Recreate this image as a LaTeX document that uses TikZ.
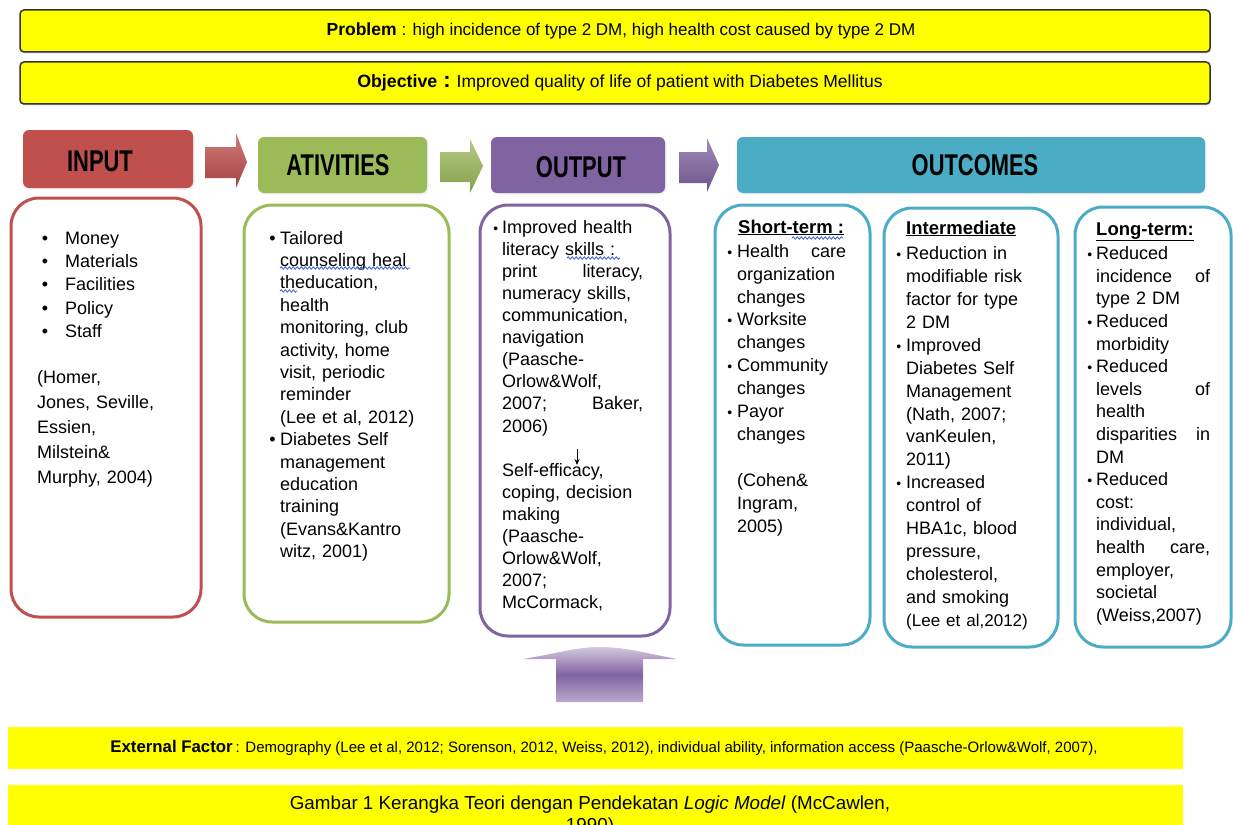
\documentclass[tikz,border=0pt]{standalone}
\usepackage{fontspec}
\setmainfont{Liberation Sans}
\usepackage{graphicx}
\usetikzlibrary{arrows.meta,decorations.pathmorphing,shadows}
\definecolor{inred}{HTML}{C0504D}
\definecolor{acgreen}{HTML}{9BBB59}
\definecolor{oppurple}{HTML}{8064A2}
\definecolor{octeal}{HTML}{4BACC6}
\definecolor{ylw}{HTML}{FFFF00}
\definecolor{wblue}{HTML}{3A5FD0}
\newcommand\mybul[1]{\leavevmode\llap{\textbullet\hspace{#1}}}
\newcommand\mysbul[1]{\leavevmode\llap{{\fontsize{14}{14}\selectfont\textbullet}\hspace{#1}}}
\begin{document}
\begin{tikzpicture}[x=1pt,y=-1pt,
  banner/.style={draw=black!80, line width=1.5pt, fill=ylw, rounded corners=4pt, inner sep=0pt,
    drop shadow={shadow xshift=1pt, shadow yshift=-1.5pt, opacity=0.35}},
  plainban/.style={fill=ylw, inner sep=0pt},
  hdr/.style={rounded corners=6pt, inner sep=0pt,
    drop shadow={shadow xshift=1.5pt, shadow yshift=-1.5pt, opacity=0.12}},
  hlabel/.style={inner sep=0pt, font=\fontsize{30}{30}\selectfont\bfseries},
  colbox/.style={line width=3pt, rounded corners=28pt, fill=white, inner sep=0pt},
  coltxt/.style={anchor=north west, inner sep=0pt, align=left, font=\fontsize{18}{22.4}\selectfont},
  ttl/.style={anchor=base west, inner sep=0pt, font=\fontsize{18.5}{20}\selectfont\bfseries},
  wave/.style={draw=wblue, line width=0.8pt, decorate, decoration={snake, amplitude=1.2pt, segment length=4pt}},
  barrow/.style={line width=0pt}
]
\path[use as bounding box] (0,0) rectangle (1233,824);
\clip (0,0) rectangle (1233,824);

% banners
\node[banner, minimum width=1190pt, minimum height=42pt] (prob) at (615,31) {};
\node[anchor=base, inner sep=0pt] (probt) at (621,36) {{\fontsize{17.5}{20}\selectfont\bfseries Problem}\hspace{5pt}{\fontsize{17}{20}\selectfont : high incidence of type 2 DM, high health cost caused by type 2 DM}};
\node[banner, minimum width=1190pt, minimum height=42pt] (obj) at (615,83) {};
\node[anchor=base, inner sep=0pt] (objt) at (620,88) {{\fontsize{17.8}{20}\selectfont\bfseries Objective}\hspace{6pt}{\fontsize{22}{22}\selectfont\bfseries :}\hspace{6pt}{\fontsize{17.5}{20}\selectfont Improved quality of life of patient with Diabetes Mellitus}};

% headers
\node[hdr, fill=inred, minimum width=170pt, minimum height=58pt] (hin) at (108,159) {};
\node[hlabel] (hint) at (100,161) {\scalebox{0.73}[1]{INPUT}};
\node[hdr, fill=acgreen, minimum width=169pt, minimum height=56pt] (hac) at (342.5,165) {};
\node[hlabel] (hact) at (338,165) {\scalebox{0.73}[1]{ATIVITIES}};
\node[hdr, fill=oppurple, minimum width=174pt, minimum height=56pt] (hop) at (578,165) {};
\node[hlabel] (hopt) at (581,167) {\scalebox{0.73}[1]{OUTPUT}};
\node[hdr, fill=octeal, minimum width=468pt, minimum height=56pt] (hoc) at (971,165) {};
\node[hlabel] (hoct) at (975,165) {\scalebox{0.73}[1]{OUTCOMES}};

% block arrows between headers
\path[top color=inred!75!white, bottom color=inred!85!black] (205,147) -- (236,147) -- (236,133) -- (247,162) -- (236,188) -- (236,178) -- (205,178) -- cycle;
\path[top color=acgreen!75!white, bottom color=acgreen!85!black] (440,152) -- (470,152) -- (470,139) -- (483,166) -- (470,193) -- (470,182) -- (440,182) -- cycle;
\path[top color=oppurple!75!white, bottom color=oppurple!85!black] (679,152) -- (707,152) -- (707,138) -- (719,165) -- (707,192) -- (707,183) -- (679,183) -- cycle;

% column boxes
\node[colbox, draw=inred, minimum width=190pt, minimum height=419pt] (inbox) at (106,407.5) {};
\node[colbox, draw=acgreen, minimum width=205pt, minimum height=417pt] (acbox) at (346.5,413.5) {};
\node[colbox, draw=oppurple, minimum width=190pt, minimum height=431pt] (opbox) at (575,420.5) {};
\node[colbox, draw=octeal, minimum width=155pt, minimum height=440pt] (stbox) at (792.5,425) {};
\node[colbox, draw=octeal, minimum width=174pt, minimum height=439pt] (imbox) at (971,427.5) {};
\node[colbox, draw=octeal, minimum width=156pt, minimum height=440pt] (ltbox) at (1153,427) {};

% INPUT text
\node[coltxt, text width=140pt, font=\fontsize{18}{23.3}\selectfont] (inlist) at (65,227.7)
 {\strut\mybul{17pt}Money\\ \mybul{17pt}Materials\\ \mybul{17pt}Facilities\\ \mybul{17pt}Policy\\ \mybul{17pt}Staff};
\node[coltxt, text width=160pt, font=\fontsize{18}{25}\selectfont] (incite) at (37,365.5)
 {\strut(Homer,\\ Jones, Seville,\\ Essien,\\ Milstein\&\\ Murphy, 2004)};

% ACTIVITIES text
\node[coltxt, text width=160pt] (aclist) at (280,228.3)
 {\strut\mybul{4.5pt}Tailored\\ counseling heal\\ theducation,\\ health\\ monitoring, club\\ activity, home\\ visit, periodic\\ reminder\\ (Lee et al, 2012)\\ \mybul{4.5pt}Diabetes Self\\ management\\ education\\ training\\ (Evans\&Kantro\\ witz, 2001)};
\draw[wave] (280,268) -- (410,268);
\draw[wave] (280,291) -- (297,291);

% OUTPUT text
\node[coltxt, text width=141pt, font=\fontsize{18}{22.1}\selectfont] (oplist) at (502,217.5)
 {\strut\mysbul{4pt}Improved health\\ literacy skills :\\ print\hfill literacy,\\ numeracy skills,\\ communication,\\ navigation\\ (Paasche-\\ Orlow\&Wolf,\\ 2007;\hfill Baker,\\ 2006)\\[22.1pt] Self-efficacy,\\ coping, decision\\ making\\ (Paasche-\\ Orlow\&Wolf,\\ 2007;\\ McCormack,};
\draw[wave] (567,258) -- (620,258);
\coordinate (da1) at (577,449);
\coordinate (da2) at (577,465);
\draw[-{Stealth[length=6pt,width=5pt]}, line width=0.9pt] (da1) -- (da2);

% Short-term
\node[ttl] (sttl) at (738,233) {\underline{Short-term :}};
\draw[wave] (792,238) -- (843,238);
\node[coltxt, text width=109pt, font=\fontsize{18}{22.9}\selectfont] (stlist) at (737,241)
 {\strut\mysbul{5pt}Health\hfill care\\ organization\\ changes\\ \mysbul{5pt}Worksite\\ changes\\ \mysbul{5pt}Community\\ changes\\ \mysbul{5pt}Payor\\ changes\\[22.9pt] (Cohen\&\\ Ingram,\\ 2005)};

% Intermediate
\node[ttl] (imttl) at (906,234) {\underline{Intermediate}};
\node[coltxt, text width=125pt, font=\fontsize{18}{22.9}\selectfont] (imlist) at (906,243.5)
 {\strut\mysbul{5pt}Reduction in\\ modifiable risk\\ factor for type\\ 2 DM\\ \mysbul{5pt}Improved\\ Diabetes Self\\ Management\\ (Nath, 2007;\\ vanKeulen,\\ 2011)\\ \mysbul{5pt}Increased\\ control of\\ HBA1c, blood\\ pressure,\\ cholesterol,\\ and smoking\\ {\fontsize{17}{17}\selectfont(Lee et al,2012)}};

% Long-term
\node[ttl] (ltttl) at (1096,235) {\underline{Long-term:}};
\node[coltxt, text width=114pt, font=\fontsize{18}{22.6}\selectfont] (ltlist) at (1096,243.7)
 {\strut\mysbul{4pt}Reduced\\ incidence\hfill of\\ type 2 DM\\ \mysbul{4pt}Reduced\\ morbidity\\ \mysbul{4pt}Reduced\\ levels\hfill of\\ health\\ disparities\hfill in\\ DM\\ \mysbul{4pt}Reduced\\ cost:\\ individual,\\ health\hfill care,\\ employer,\\ societal\\ (Weiss,2007)};

% external factor up-arrow
\path[top color=oppurple!35!white, bottom color=oppurple!55!white, middle color=oppurple]
  (523,659) .. controls (560,653) and (575,647) .. (600,647) .. controls (625,647) and (645,653) .. (677,659)
  -- (643,659) -- (643,702) -- (556,702) -- (556,659) -- cycle;

% bottom banners
\node[plainban, minimum width=1175pt, minimum height=42pt] (ext) at (595.5,748) {};
\node[anchor=base, inner sep=0pt] (extt) at (604,752) {{\fontsize{16.8}{18}\selectfont\bfseries External Factor}\hspace{3pt}{\fontsize{15}{18}\selectfont : Demography (Lee et al, 2012; Sorenson, 2012, Weiss, 2012), individual ability, information access (Paasche-Orlow\&Wolf, 2007),}};
\node[plainban, minimum width=1175pt, minimum height=46pt] (gam) at (595.5,808) {};
\node[anchor=north, inner sep=0pt, align=center, font=\fontsize{18.8}{22}\selectfont] (gamt) at (590,793.6)
 {\strut Gambar 1 Kerangka Teori dengan Pendekatan \textit{Logic Model} (McCawlen,\\ 1990)};
\end{tikzpicture}
\end{document}
